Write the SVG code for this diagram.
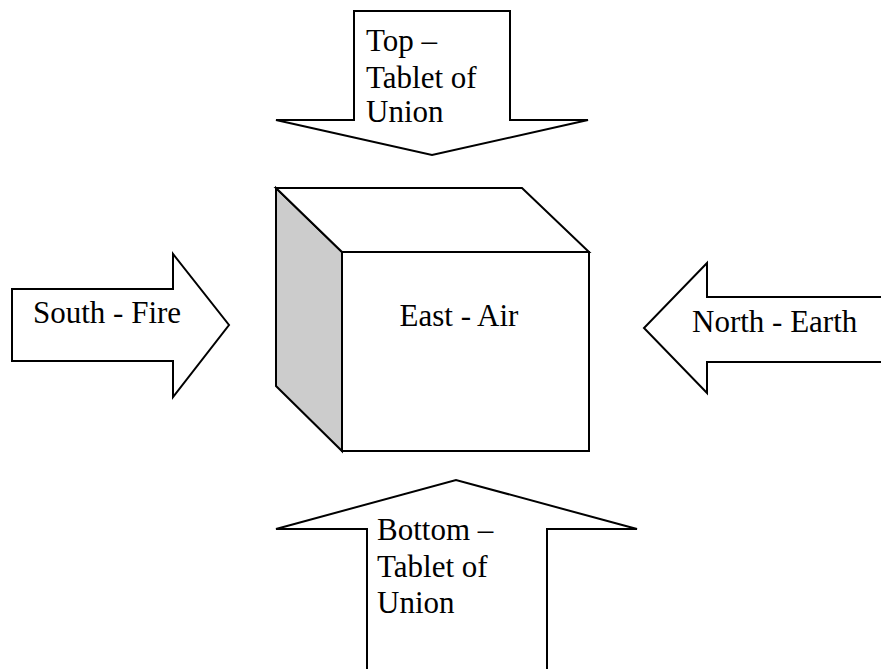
<svg xmlns="http://www.w3.org/2000/svg" width="881" height="669" viewBox="0 0 881 669">
<style>
.sh{fill:#fff;stroke:#000;stroke-width:2;stroke-linejoin:miter}
.t{font-family:"Liberation Serif","Times New Roman",serif;font-size:31px;fill:#000}
</style>
<rect width="881" height="669" fill="#fff"/>
<g id="top-arrow">
<polygon class="sh" points="354,11 510,11 510,120 588,120 432,155 276,120 354,120"/>
<text class="t" x="366" y="51">Top –</text>
<text class="t" x="366" y="88">Tablet of</text>
<text class="t" x="366" y="122">Union</text>
</g>
<g id="cube">
<polygon points="276,188 342,252 342,451 276,386" fill="#ccc" stroke="#000" stroke-width="2"/>
<polygon class="sh" points="276,188 522,188 589,252 342,252"/>
<rect class="sh" x="342" y="252" width="247" height="199"/>
<text class="t" x="459" y="326" text-anchor="middle">East - Air</text>
</g>
<g id="south-arrow">
<polygon class="sh" points="12,289 173,289 173,254 229,325 173,397 173,361 12,361"/>
<text class="t" x="33" y="323">South - Fire</text>
</g>
<g id="north-arrow">
<polygon class="sh" points="882,297 707,297 707,263 644,328 707,393 707,362 882,362"/>
<text class="t" x="692" y="332">North - Earth</text>
</g>
<g id="bottom-arrow">
<polygon class="sh" points="367,670 367,529 276,529 456,480 637,529 547,529 547,670"/>
<text class="t" x="377" y="540">Bottom –</text>
<text class="t" x="377" y="577">Tablet of</text>
<text class="t" x="377" y="613">Union</text>
</g>
</svg>
